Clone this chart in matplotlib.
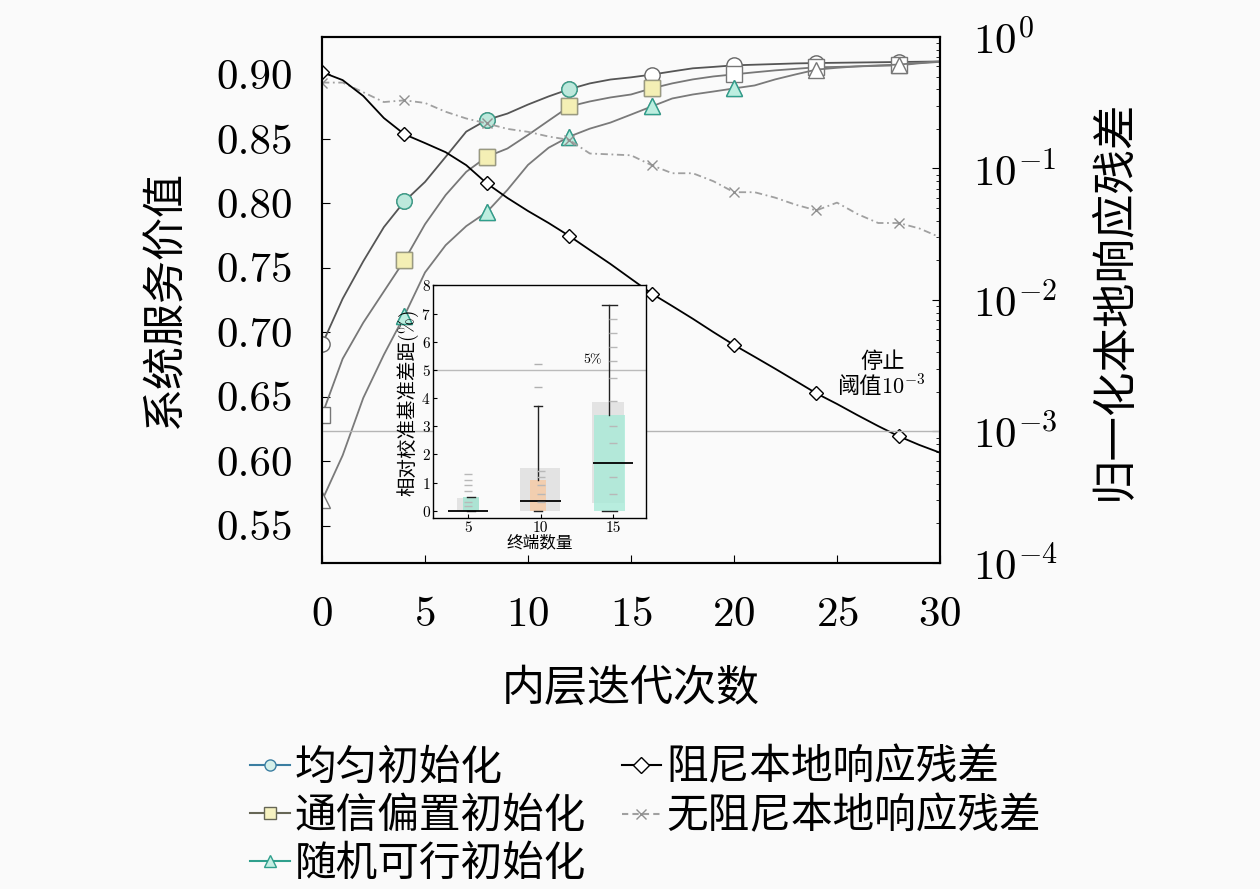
import matplotlib
matplotlib.use("Agg")
import matplotlib.pyplot as plt
from matplotlib.lines import Line2D

plt.rcParams['font.family'] = ['cmr10', 'Noto Sans CJK SC', 'DejaVu Sans']
plt.rcParams['mathtext.fontset'] = 'cm'
plt.rcParams['axes.formatter.use_mathtext'] = True
plt.rcParams['axes.unicode_minus'] = False

# ---- data ----
iters = list(range(31))

uniform = [0.6905, 0.726, 0.755, 0.7815, 0.8015, 0.8166, 0.836, 0.8556, 0.8647, 0.8696,
           0.8766, 0.8829, 0.8885, 0.893, 0.896, 0.8977, 0.8998, 0.9023, 0.9047, 0.9058,
           0.907, 0.9075, 0.908, 0.9085, 0.9088, 0.909, 0.9092, 0.9094, 0.9096, 0.9098, 0.910]
comm_bias = [0.6358, 0.6794, 0.7074, 0.7316, 0.7558, 0.7838, 0.8064, 0.8244, 0.8361, 0.8425,
             0.853, 0.8641, 0.8751, 0.879, 0.8821, 0.8844, 0.8891, 0.893, 0.8961, 0.8984,
             0.900, 0.9016, 0.9031, 0.9043, 0.9055, 0.9058, 0.9062, 0.9066, 0.907, 0.9086, 0.9097]
rand_feas = [0.5695, 0.6045, 0.649, 0.6825, 0.7129, 0.7464, 0.7675, 0.7823, 0.7932, 0.8104,
             0.8298, 0.8431, 0.8517, 0.8579, 0.8626, 0.8688, 0.8751, 0.8813, 0.8844, 0.8867,
             0.8891, 0.8914, 0.8961, 0.900, 0.9037, 0.9051, 0.9062, 0.907, 0.9076, 0.909, 0.910]

damped = [0.54, 0.47, 0.356, 0.242, 0.182, 0.156, 0.133, 0.106, 0.077, 0.0597,
          0.0475, 0.0385, 0.0307, 0.024, 0.0188, 0.0145, 0.0112, 0.009, 0.0072, 0.0057,
          0.00455, 0.0037, 0.003, 0.00242, 0.00195, 0.00162, 0.00133, 0.0011, 0.00092, 0.00079, 0.00069]
undamped = [0.45, 0.45, 0.38, 0.32, 0.33, 0.315, 0.27, 0.24, 0.22, 0.20,
            0.19, 0.175, 0.165, 0.13, 0.128, 0.126, 0.106, 0.092, 0.092, 0.08,
            0.066, 0.066, 0.06, 0.053, 0.048, 0.055, 0.045, 0.0385, 0.0385, 0.035, 0.030]
threshold = 1e-3

# iterations whose markers are drawn coloured
hl_uniform = [4, 8, 12]
hl_comm = [4, 8, 12, 16]
hl_rand = [4, 8, 12, 16, 20]

# inset box data
groups = ['5', '10', '15']
q1 = [0.0, 0.0, 0.0]
med = [0.0, 0.35, 1.7]
q3 = [0.5, 1.1, 3.4]
whi_lo = [0.0, 0.0, 0.0]
whi_hi = [0.5, 3.7, 7.3]
fliers = [[], [4.4, 5.2], []]
gray_lo = [0.0, 0.0, 0.27]
gray_hi = [0.45, 1.5, 3.85]
pts = [[1.3, 1.1, 0.9, 0.7, 0.3, 0.15],
       [1.4, 1.2, 0.9, 0.6, 0.3],
       [6.8, 6.3, 5.8, 5.3, 4.7, 3.9, 3.0, 2.4, 1.2, 0.6]]
box_colors = ['#9fe3cf', '#f7c9a2', '#a8ead7']

fig = plt.figure(figsize=(12.6, 8.89), dpi=100)
fig.patch.set_facecolor('#fafafa')
ax = fig.add_axes([0.2556, 0.3667, 0.4904, 0.5917])
ax.set_facecolor('#fafafa')
ax2 = ax.twinx()

ax.plot(iters, uniform, color='#555555', lw=1.3, marker='o', markevery=4, ms=11,
        mfc='white', mec='#666666', mew=1.0)
ax.plot(iters, comm_bias, color='#777777', lw=1.3, marker='s', markevery=4, ms=11,
        mfc='white', mec='#777777', mew=1.0)
ax.plot(iters, rand_feas, color='#7a7a7a', lw=1.3, marker='^', markevery=4, ms=11,
        mfc='white', mec='#777777', mew=1.0)
ax.plot(hl_uniform, [uniform[i] for i in hl_uniform], ls='none', marker='o', ms=11,
        mfc='#bde8dc', mec='#3a9f8a', mew=1.0)
ax.plot(hl_comm, [comm_bias[i] for i in hl_comm], ls='none', marker='s', ms=11,
        mfc='#f4efb5', mec='#9a9a80', mew=1.0)
ax.plot(hl_rand, [rand_feas[i] for i in hl_rand], ls='none', marker='^', ms=11,
        mfc='#bdeee0', mec='#2f9f8c', mew=1.0)

ax2.plot(iters, undamped, color='#a0a0a0', lw=1.3, ls=(0, (4, 2, 1, 2)), marker='x',
         markevery=4, ms=7, mec='#909090')
ax2.plot(iters, damped, color='black', lw=1.3, marker='D', markevery=4, ms=7,
         mfc='white', mec='black', mew=1.0)
ax2.axhline(threshold, color='#b5b5b5', lw=1.0)
ax2.text(27.2, 10 ** -2.47, '停止', ha='center', va='center', fontsize=16)
ax2.text(27.15, 10 ** -2.66, '阈值', ha='right', va='center', fontsize=16)
ax2.text(27.15, 10 ** -2.66, '$10^{-3}$', ha='left', va='center', fontsize=16)

ax.set_xlim(0, 30)
ax.set_ylim(0.521, 0.929)
ax2.set_yscale('log')
ax2.set_ylim(1e-4, 1)
ax.set_xticks(range(0, 31, 5))
ax.set_yticks([0.55, 0.60, 0.65, 0.70, 0.75, 0.80, 0.85, 0.90])
ax.set_yticklabels(['0.55', '0.60', '0.65', '0.70', '0.75', '0.80', '0.85', '0.90'])
ax.tick_params(axis='both', direction='in', labelsize=31, length=6)
ax.tick_params(axis='x', pad=24)
ax.tick_params(axis='y', pad=21)
ax2.tick_params(axis='y', which='major', direction='in', labelsize=31, length=6, pad=24)
ax2.tick_params(axis='y', which='minor', direction='in', length=3)
for a in (ax, ax2):
    for s in a.spines.values():
        s.set_linewidth(1.5)

ax.set_xlabel('内层迭代次数', fontsize=31, labelpad=25)
ax.set_ylabel('系统服务价值', fontsize=31, labelpad=22)
ax2.set_ylabel('归一化本地响应残差', fontsize=32, labelpad=26)

handles = [
    Line2D([], [], color='#3b7ea1', marker='o', ms=8, mfc='#d5f0ea', mec='#3b7ea1'),
    Line2D([], [], color='#666655', marker='s', ms=8, mfc='#f6f2c0', mec='#666655'),
    Line2D([], [], color='#2f9f8c', marker='^', ms=8, mfc='#c5efe4', mec='#2f9f8c'),
    Line2D([], [], color='black', marker='D', ms=8, mfc='white', mec='black'),
    Line2D([], [], color='#a0a0a0', ls=(0, (3, 2)), marker='x', ms=7, mec='#909090'),
]
labels = ['均匀初始化', '通信偏置初始化', '随机可行初始化', '阻尼本地响应残差', '无阻尼本地响应残差']
fig.legend(handles, labels, loc='upper left', bbox_to_anchor=(0.182, 0.182), ncol=2,
           frameon=False, fontsize=30, handlelength=0.95, handletextpad=0.12,
           columnspacing=0.85, labelspacing=0.23, borderpad=0.0)

# ---- inset ----
axi = fig.add_axes([0.344, 0.417, 0.169, 0.262])
axi.set_facecolor('#fafafa')
pos = [1, 2, 3]
axi.bar([1.0, 1.99, 2.93], [h - l for h, l in zip(gray_hi, gray_lo)], bottom=gray_lo,
        width=[0.3, 0.55, 0.44], color='#e3e3e3', zorder=1)
stats = []
for i in range(3):
    stats.append(dict(med=med[i], q1=q1[i], q3=q3[i], whislo=whi_lo[i], whishi=whi_hi[i],
                      fliers=fliers[i]))
bp = axi.bxp(stats, positions=[1.04, 1.97, 2.95], widths=[0.23, 0.22, 0.43], patch_artist=True,
             showfliers=True, manage_ticks=False,
             boxprops=dict(linewidth=0), whiskerprops=dict(color='#222222', lw=1.0),
             capprops=dict(color='#222222', lw=1.0),
             medianprops=dict(color='black', lw=1.3),
             flierprops=dict(marker='_', mec='#b0b0b0', ms=6))
for patch, c in zip(bp['boxes'], box_colors):
    patch.set_facecolor(c)
    patch.set_alpha(0.8)
    patch.set_zorder(2)
for m, p in zip(bp['medians'], pos):
    m.set_xdata([p - 0.28, p + 0.28])
for i, p in enumerate(pos):
    axi.plot([p] * len(pts[i]), pts[i], ls='none', marker='_', ms=6, mec='#b8b8b8', zorder=3)
axi.axhline(5, color='#bbbbbb', lw=1.0, zorder=0)
axi.text(2.72, 5.35, '5%', ha='center', va='center', fontsize=10)
axi.set_xlim(0.52, 3.46)
axi.set_ylim(-0.27, 8.0)
axi.set_xticks(pos)
axi.set_xticklabels(groups)
axi.set_yticks(range(0, 9))
axi.tick_params(labelsize=11, length=3, direction='in', pad=2)
axi.set_xlabel('终端数量', fontsize=12, labelpad=0)
axi.set_ylabel('相对校准基准差距(%)', fontsize=14, labelpad=2)
for s in axi.spines.values():
    s.set_linewidth(1.0)

fig.savefig('out.png', dpi=100, facecolor=fig.get_facecolor())
